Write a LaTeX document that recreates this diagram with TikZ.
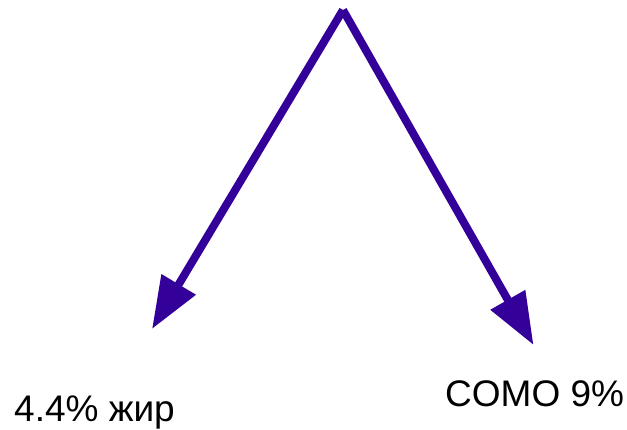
\documentclass[tikz,border=0pt]{standalone}
\usepackage{fontspec}
\setmainfont{Liberation Sans}
\usetikzlibrary{arrows.meta}
\definecolor{arrowviolet}{HTML}{330099}
\begin{document}
\begin{tikzpicture}[x=1pt,y=-1pt,
  bigarrow/.style={draw=arrowviolet,line width=8pt,
    -{Triangle[length=52pt,width=38pt]}},
  label/.style={anchor=base west,inner sep=0pt,font=\fontsize{37}{44}\selectfont}]
  \useasboundingbox (0,0) rectangle (627,429);
  % shared starting point and the two arrow tips
  \coordinate (apex) at (343,10);
  \coordinate (lefttip) at (152,329);
  \coordinate (righttip) at (533.5,345);
  \draw[bigarrow] (apex) -- (lefttip);
  \draw[bigarrow] (apex) -- (righttip);
  % labels under the arrows
  \node[label] (fat) at (14,421) {4.4\% жир};
  \node[label] (como) at (445,406) {COMO 9\%};
\end{tikzpicture}
\end{document}
